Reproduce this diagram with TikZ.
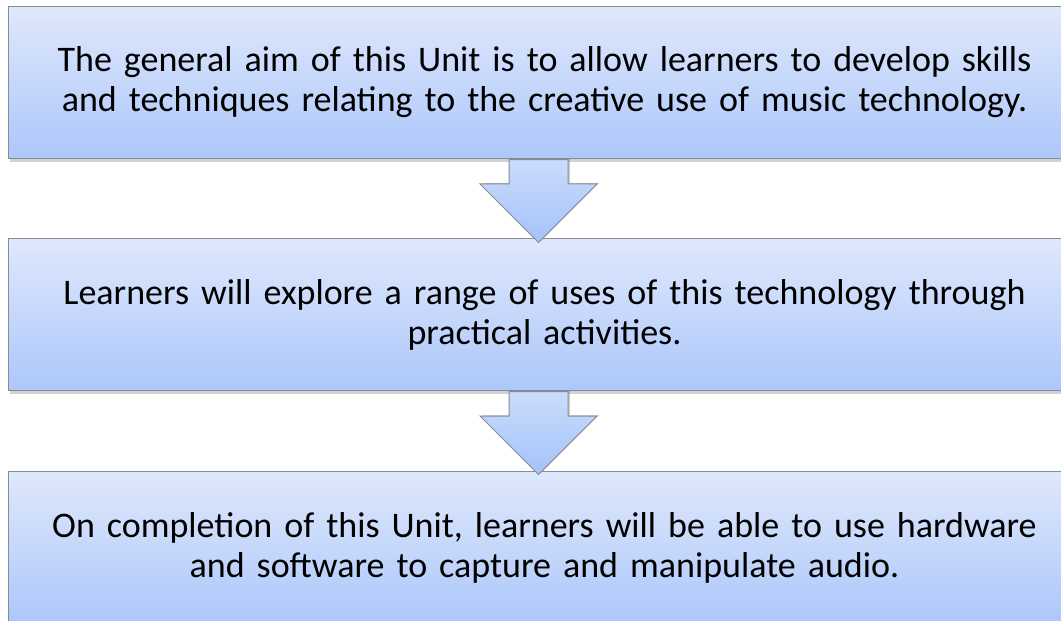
\documentclass[tikz,border=0pt]{standalone}
\usepackage{fontspec}
\setmainfont{Carlito}
\usetikzlibrary{shapes.arrows,shadows}

\definecolor{boxtop}{RGB}{223,232,252}
\definecolor{boxmid}{RGB}{203,219,251}
\definecolor{boxbot}{RGB}{172,199,250}
\definecolor{arrtop}{RGB}{203,220,252}
\definecolor{arrbot}{RGB}{164,194,250}
\definecolor{edgegray}{RGB}{135,140,150}

\begin{document}
\begin{tikzpicture}[
    x=1pt, y=-1pt,
    textbox/.style={rectangle, draw=edgegray, line width=1pt,
      top color=boxtop, middle color=boxmid, bottom color=boxbot,
      minimum width=1072pt, minimum height=152pt, inner sep=0pt,
      text width=1050pt, align=center, anchor=north west,
      font=\fontsize{36}{40}\selectfont,
      drop shadow={shadow xshift=1pt, shadow yshift=-3pt, opacity=0.35}},
    downarrow/.style={single arrow, draw=edgegray, line width=1pt,
      top color=arrtop, bottom color=arrbot,
      inner xsep=1pt, inner ysep=29pt, single arrow head extend=29pt,
      single arrow tip angle=90, single arrow head indent=0pt,
      minimum height=83pt, rotate=-90, anchor=tail,
      drop shadow={shadow xshift=2pt, shadow yshift=1pt, opacity=0.35}},
]
\clip (0,0) rectangle (1061,621);
\fill[white] (0,0) rectangle (1061,621);

% boxes
\node[textbox] (aim) at (8,6)
  {The general aim of this Unit is to allow learners to develop skills\\
   and techniques relating to the creative use of music technology.};
\node[textbox] (explore) at (8,238)
  {Learners will explore a range of uses of this technology through\\
   practical activities.};
\node[textbox] (outcome) at (8,471)
  {On completion of this Unit, learners will be able to use hardware\\
   and software to capture and manipulate audio.};

% arrows between boxes
\node[downarrow] (arrA) at ([xshift=-6pt]aim.south) {};
\node[downarrow] (arrB) at ([xshift=-6pt]explore.south) {};

\end{tikzpicture}
\end{document}
